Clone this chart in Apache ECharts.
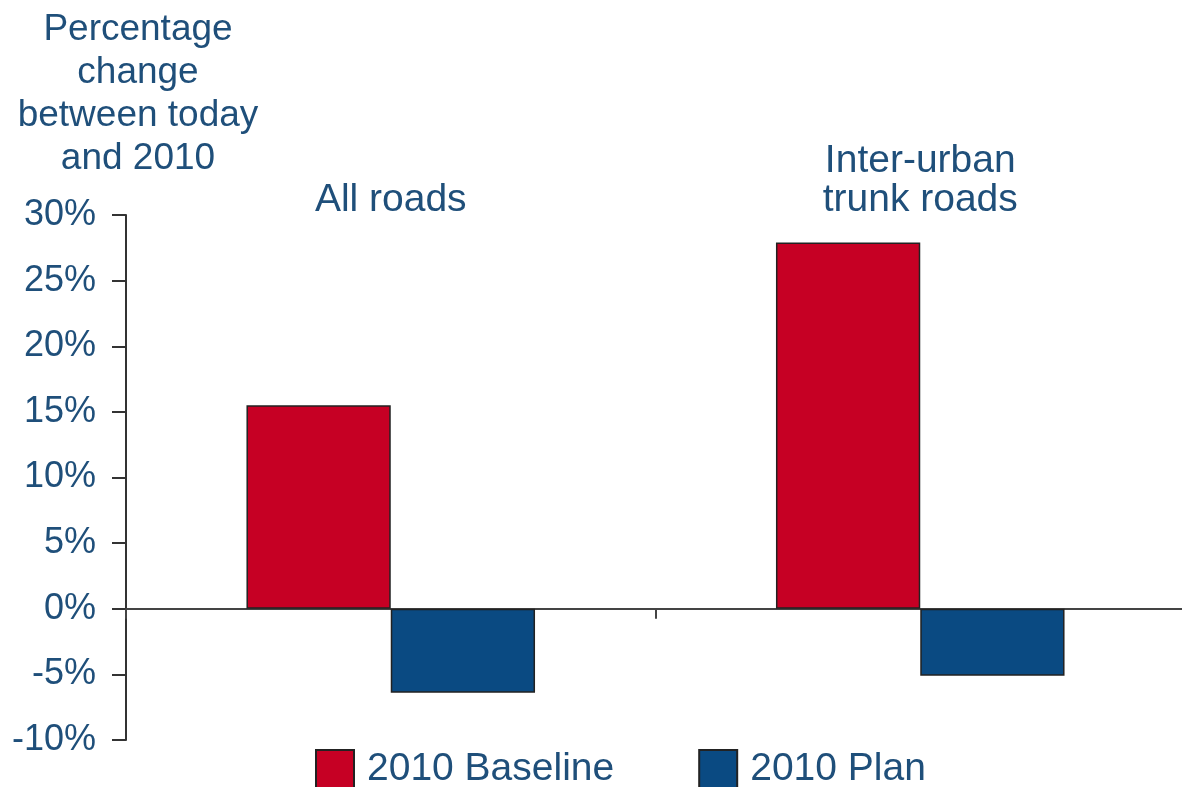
<!DOCTYPE html>
<html>
<head>
<meta charset="utf-8">
<script src="https://cdn.jsdelivr.net/npm/echarts@6/dist/echarts.min.js"></script>
<style>html,body{margin:0;padding:0;background:#fff}#c{width:1182px;height:787px}</style>
</head>
<body>
<div id="c"></div>
<script>
const categories = ['All roads', 'Inter-urban\ntrunk roads'];
const baseline = [15.5, 27.9];
const plan = [-6.4, -5.1];
const seriesNames = ['2010 Baseline', '2010 Plan'];
const yTitle = 'Percentage\nchange\nbetween today\nand 2010';

const TXT = '#1f4f7a';
const FONT = 'Liberation Sans, Arial, sans-serif';
const chart = echarts.init(document.getElementById('c'));
chart.setOption({
  backgroundColor: '#fff',
  animation: false,
  textStyle: { fontFamily: FONT },
  grid: { left: 126, right: -3, top: 215, bottom: 47, containLabel: false, outerBoundsMode: 'none' },
  graphic: [{
    type: 'text', x: 138, y: 8,
    style: { text: yTitle, font: '37px ' + FONT, fill: TXT, align: 'center', verticalAlign: 'top', lineHeight: 43 }
  }],
  legend: {
    data: seriesNames, top: 744, left: 310, icon: 'rect',
    itemWidth: 38, itemHeight: 38, itemGap: 84,
    textStyle: { fontSize: 39, color: TXT, fontFamily: FONT, padding: [0, 0, 0, 8] }
  },
  xAxis: [{
    type: 'category', data: categories,
    axisLine: { onZero: true, lineStyle: { color: '#444', width: 2 } },
    axisTick: { show: true, length: 10, lineStyle: { color: '#444', width: 2 } },
    axisLabel: { show: false }
  }, {
    type: 'category', data: categories, position: 'top',
    axisLine: { show: false }, axisTick: { show: false },
    axisLabel: { show: true, fontSize: 39, color: TXT, fontFamily: FONT, margin: -5, lineHeight: 39 }
  }],
  yAxis: {
    type: 'value', min: -10, max: 30, interval: 5,
    axisLine: { show: true, lineStyle: { color: '#333', width: 2 } },
    axisTick: { show: true, length: 14, lineStyle: { color: '#333', width: 2 } },
    splitLine: { show: false },
    axisLabel: { formatter: '{value}%', fontSize: 36, color: TXT, fontFamily: FONT, margin: 30 }
  },
  series: [{
    name: seriesNames[0], type: 'bar', data: baseline, barGap: '0%', barCategoryGap: '45.5%',
    itemStyle: { color: '#c60024', borderColor: '#222', borderWidth: 1.5 }
  }, {
    name: seriesNames[1], type: 'bar', data: plan,
    itemStyle: { color: '#0a4a82', borderColor: '#222', borderWidth: 1.5 }
  }]
});
</script>
</body>
</html>
